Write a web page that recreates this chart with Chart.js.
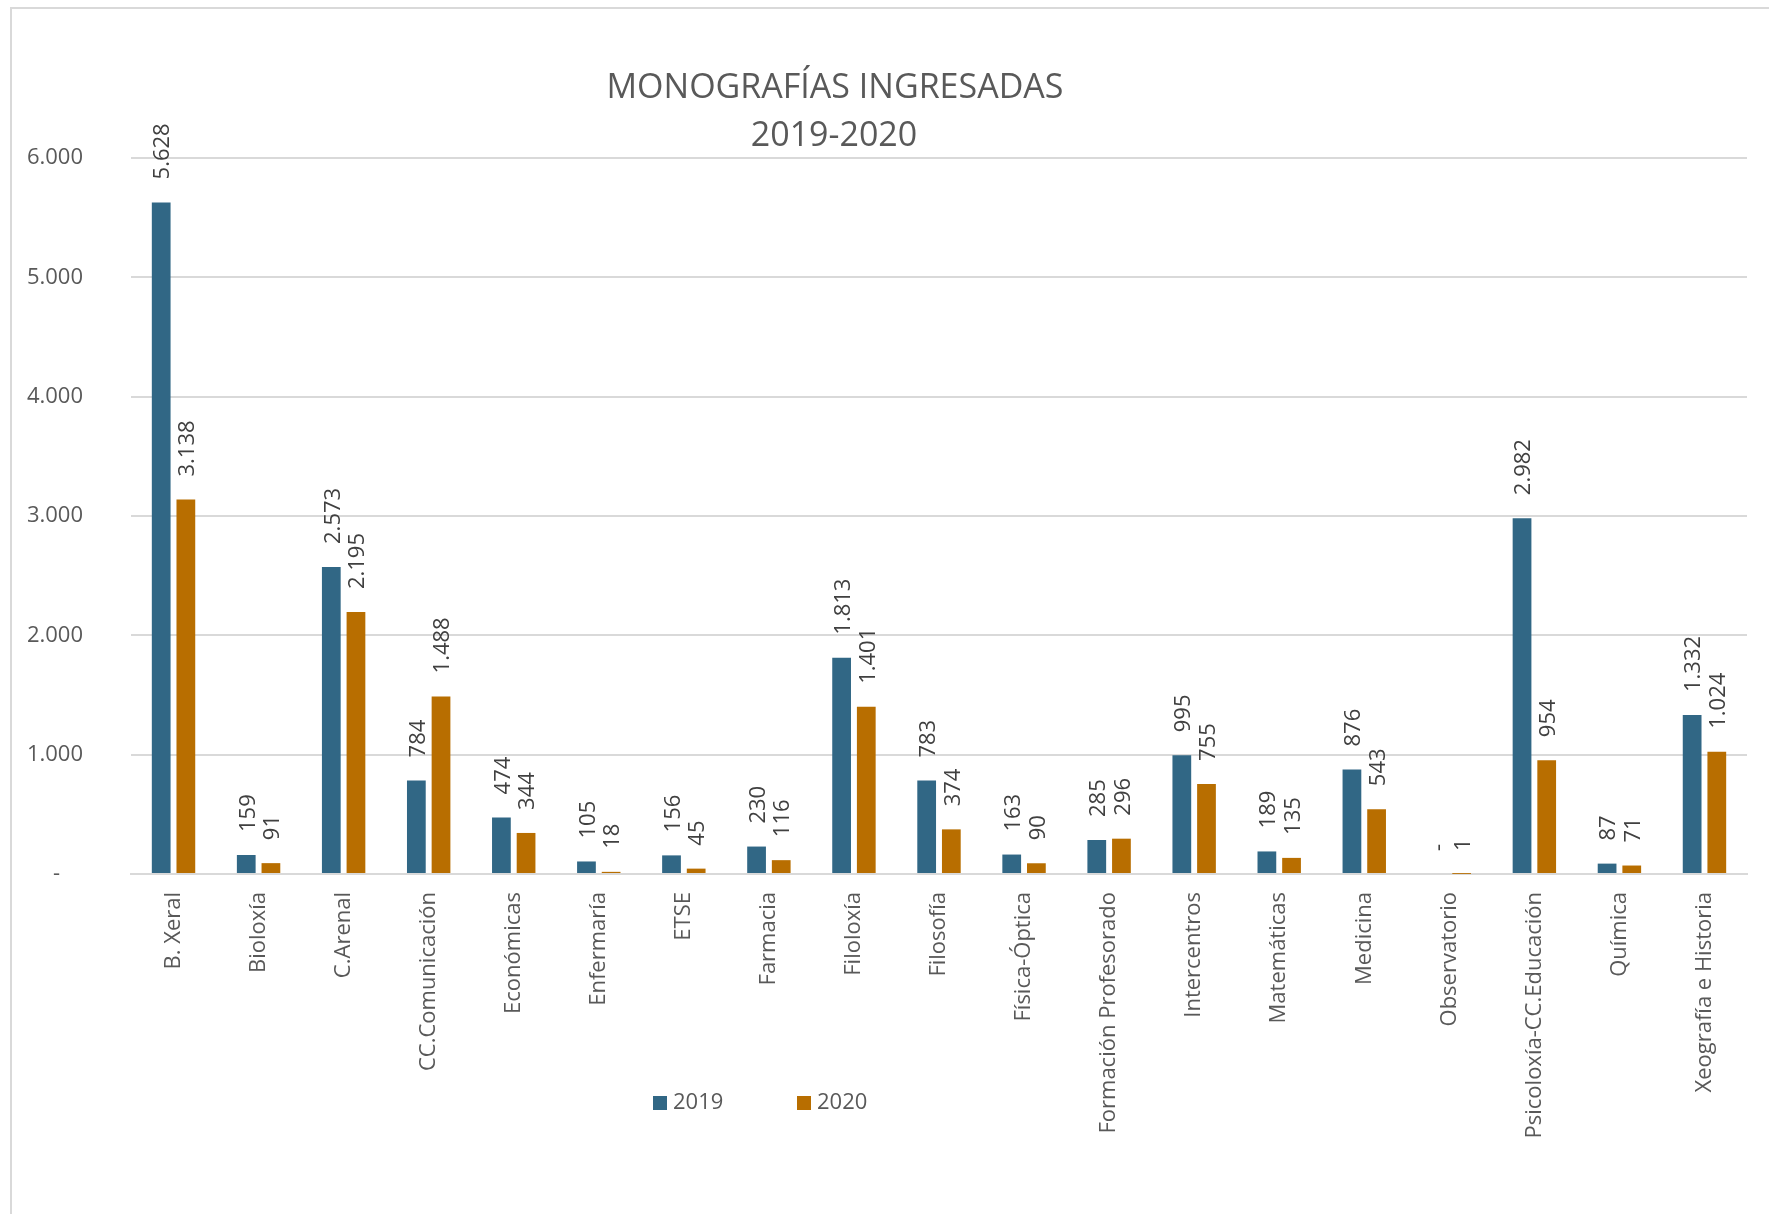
<!DOCTYPE html>
<html>
<head>
<meta charset="utf-8">
<script src="https://cdn.jsdelivr.net/npm/chart.js@4.4.1/dist/chart.umd.min.js"></script>
<style>
  html, body { margin: 0; padding: 0; background: #fff; }
  #wrap { position: relative; width: 1769px; height: 1214px; }
  #frame { position: absolute; left: 10px; top: 7px; right: 0; bottom: 0;
           border-left: 2px solid #d9d9d9; border-top: 2px solid #d9d9d9; }
  canvas { position: absolute; left: 0; top: 0; }
</style>
</head>
<body>
<div id="wrap">
  <div id="frame"></div>
  <canvas id="chart" width="1769" height="1214"></canvas>
</div>
<script>
const categories = [
  'B. Xeral', 'Bioloxía', 'C.Arenal', 'CC.Comunicación', 'Económicas',
  'Enfermaría', 'ETSE', 'Farmacia', 'Filoloxía', 'Filosofía',
  'Física-Óptica', 'Formación Profesorado', 'Intercentros', 'Matemáticas',
  'Medicina', 'Observatorio', 'Psicoloxía-CC.Educación', 'Química',
  'Xeografía e Historia'
];
const values2019 = [5628, 159, 2573, 784, 474, 105, 156, 230, 1813, 783, 163, 285, 995, 189, 876, 0, 2982, 87, 1332];
const values2020 = [3138, 91, 2195, 1488, 344, 18, 45, 116, 1401, 374, 90, 296, 755, 135, 543, 1, 954, 71, 1024];
const seriesNames = ['2019', '2020'];
const titleLines = ['MONOGRAFÍAS INGRESADAS', '2019-2020'];

const FONT = '"Open Sans", "Liberation Sans", sans-serif';
const TEXT = '#595959';

function fmt(n) {
  if (n === 0) return '-';
  return String(n).replace(/\B(?=(\d{3})+(?!\d))/g, '.');
}

// value labels, rotated, sitting above each bar
const barLabels = {
  id: 'barLabels',
  afterDatasetsDraw(chart) {
    const c = chart.ctx;
    c.save();
    c.font = '22px ' + FONT;
    c.fillStyle = '#404040';
    c.textAlign = 'left';
    c.textBaseline = 'middle';
    chart.data.datasets.forEach((ds, i) => {
      chart.getDatasetMeta(i).data.forEach((bar, j) => {
        c.save();
        c.translate(bar.x + 2, bar.y - 23);
        c.rotate(-Math.PI / 2);
        c.fillText(fmt(ds.data[j]), 0, 0);
        c.restore();
      });
    });
    c.restore();
  }
};

// two-line title, placed like the original (not centred on the plot)
const titlePlugin = {
  id: 'titlePlugin',
  afterDraw(chart) {
    const c = chart.ctx;
    c.save();
    c.font = '34px ' + FONT;
    c.fillStyle = TEXT;
    c.textAlign = 'center';
    c.textBaseline = 'alphabetic';
    c.fillText(titleLines[0], 835, 98);
    c.fillText(titleLines[1], 834, 146);
    c.restore();
  }
};

// legend under the axis labels
const legendPlugin = {
  id: 'legendPlugin',
  afterDraw(chart) {
    const c = chart.ctx;
    c.save();
    c.font = '22px ' + FONT;
    c.textBaseline = 'middle';
    c.textAlign = 'left';
    let x = 653;
    const y = 1103;
    chart.data.datasets.forEach(ds => {
      c.fillStyle = ds.backgroundColor;
      c.fillRect(x, y - 7, 14, 14);
      c.fillStyle = TEXT;
      c.fillText(ds.label, x + 20, y);
      x += 144;
    });
    c.restore();
  }
};

new Chart(document.getElementById('chart'), {
  type: 'bar',
  data: {
    labels: categories,
    datasets: [
      { label: seriesNames[0], data: values2019, backgroundColor: '#316785' },
      { label: seriesNames[1], data: values2020, backgroundColor: '#B86E00' }
    ]
  },
  options: {
    responsive: false,
    animation: false,
    devicePixelRatio: 1,
    categoryPercentage: 0.58,
    barPercentage: 0.76,
    layout: { padding: { top: 158, right: 22, left: 0, bottom: 0 } },
    plugins: {
      legend: { display: false },
      title: { display: false },
      tooltip: { enabled: false }
    },
    scales: {
      x: {
        grid: { display: false, drawTicks: false },
        border: { color: '#d9d9d9', width: 2 },
        ticks: {
          color: TEXT,
          font: { family: FONT, size: 22 },
          minRotation: 90,
          maxRotation: 90,
          padding: 18,
          autoSkip: false
        },
        afterFit(scale) { scale.height = 340; }
      },
      y: {
        min: 0,
        max: 6000,
        grid: { color: '#d9d9d9', lineWidth: 2, drawTicks: false },
        border: { display: false },
        ticks: {
          stepSize: 1000,
          color: TEXT,
          font: { family: FONT, size: 22 },
          padding: 48,
          callback: v => (v === 0 ? '-    ' : fmt(v))
        },
        afterFit(scale) { scale.width = 131; }
      }
    }
  },
  plugins: [barLabels, titlePlugin, legendPlugin]
});
</script>
</body>
</html>
